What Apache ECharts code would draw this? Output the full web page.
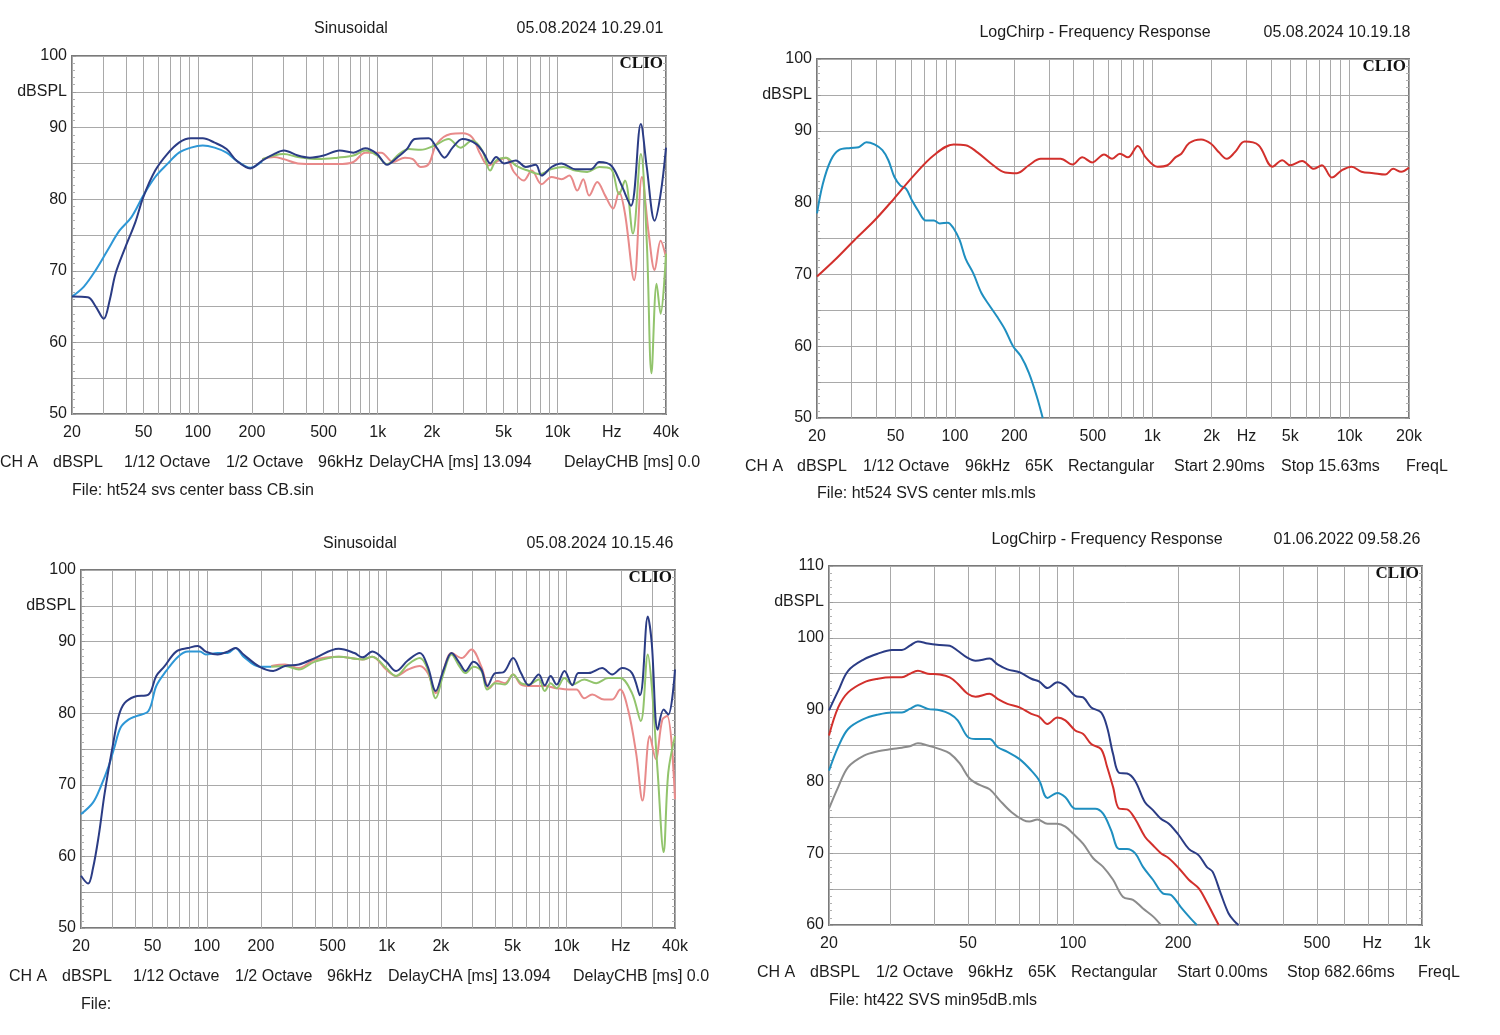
<!DOCTYPE html>
<html><head><meta charset="utf-8">
<script src="https://cdn.jsdelivr.net/npm/echarts@6/dist/echarts.min.js"></script>
<style>html,body{margin:0;padding:0;background:#fff}#c{width:1500px;height:1035px}</style>
</head><body><div id="c"></div>
<script>
// ---------- DATA ----------
// Panel 1 (Sinusoidal, 05.08.2024 10.29.01)
const p1Navy = [[20,66.4],[24.5,66.3],[27.1,65.0],[30,63.3],[32.4,65.9],[34.9,69.6],[39.6,73.3],[45,76.8],[49.8,80.3],[58,84.0],[67.6,86.3],[78.7,87.9],[91.6,88.5],[106.6,88.5],[124,87.9],[144.5,87.0],[164,85.4],[196,84.3],[228,85.4],[265,86.3],[301,86.8],[360,86.1],[420,85.8],[501,86.1],[614,86.8],[733,86.5],[853,87.1],[993,86.3],[1127,84.8],[1280,85.8],[1452,87.0],[1607,88.4],[1919,88.5],[2125,87.2],[2350,85.8],[2606,87.2],[2957,88.4],[3532,87.7],[3909,86.3],[4218,85.0],[4550,85.9],[5036,85.0],[5862,85.4],[6652,84.5],[7550,84.8],[8146,83.3],[9247,84.5],[10496,85.0],[12531,84.2],[15347,84.2],[17022,85.2],[19816,84.7],[22492,82.1],[25530,79.1],[28980,90.5],[31260,84.5],[34580,77.0],[37330,80.7],[40000,87.2]];
const p1Blue = [[20,66.4],[23.3,67.8],[27.1,70.1],[31.6,72.9],[36.7,75.6],[42.8,77.5],[49.8,80.5],[58,83.1],[67.6,84.9],[78.7,86.5],[91.6,87.2],[106.6,87.5],[124,87.2],[144.5,86.5],[164,85.4],[196,84.4],[228,85.3]];
const p1Green = [[228,85.6],[265,86.1],[301,86.3],[360,85.9],[464,85.6],[598,85.8],[733,86.1],[853,86.8],[993,86.1],[1127,84.9],[1313,86.3],[1490,87.0],[1734,86.9],[2071,87.5],[2477,88.4],[2883,87.2],[3357,88.2],[3811,86.8],[4218,84.0],[4550,85.4],[5165,85.8],[5862,84.7],[6823,84.0],[7942,83.5],[9247,84.2],[10765,84.5],[12531,84.0],[14589,83.8],[17022,84.5],[19816,84.2],[21929,80.7],[23661,82.6],[26185,75.2],[28980,86.3],[31260,74.2],[33220,55.7],[35470,68.2],[37330,64.0],[40000,72.4]];
const p1Pink = [[228,85.6],[265,85.9],[301,85.6],[360,85.0],[464,84.9],[598,84.9],[733,85.2],[853,86.5],[1045,86.5],[1216,85.2],[1416,85.8],[1567,85.6],[1734,84.5],[1919,84.9],[2125,87.7],[2541,89.1],[2957,89.2],[3357,88.6],[3716,86.3],[4112,84.7],[4550,85.2],[5165,85.8],[5716,83.8],[6486,82.6],[7177,84.0],[8146,82.1],[9247,83.1],[10496,82.8],[11617,83.3],[12853,81.2],[13868,82.8],[14963,80.5],[16596,82.4],[18365,80.5],[20325,78.7],[21929,81.0],[23661,78.0],[26600,68.7],[29400,83.1],[32060,75.2],[34580,70.1],[37330,74.2],[40000,71.9]];

// Panel 2 (LogChirp, 05.08.2024 10.19.18)
const p2Red = [[20,69.7],[24.6,72.0],[31,74.8],[39.1,77.5],[49.3,80.6],[62,83.8],[78.2,86.6],[98.5,88.1],[113.2,88.0],[130,87.0],[156.3,85.2],[179.6,84.2],[206.3,84.1],[237,85.2],[272.2,86.1],[342.9,86.1],[394,85.3],[442.2,86.3],[496.3,85.6],[570.2,86.7],[625.4,86.1],[685.8,86.8],[752.5,86.3],[844.4,87.9],[926,86.3],[1064,85.0],[1194,85.2],[1310,86.3],[1404,86.8],[1540,88.3],[1768,88.8],[1985,88.2],[2177,87.0],[2388,86.1],[2619,87.0],[2940,88.5],[3457,88.0],[4064,85.0],[4560,85.9],[5001,85.2],[5744,85.8],[6601,84.7],[7240,85.2],[8126,83.5],[9119,84.5],[10236,85.0],[11489,84.3],[13199,84.1],[15163,83.9],[16631,84.7],[18243,84.3],[20000,84.9]];
const p2Blue = [[20,78.5],[21.4,82.6],[23.5,85.9],[25.8,87.3],[29.6,87.6],[32.5,87.7],[35.6,88.4],[39.1,88.1],[42.9,87.3],[46,85.9],[49.3,83.6],[52.8,82.4],[56.6,81.9],[60.6,80.3],[65,78.9],[71.3,77.5],[78.2,77.5],[83.8,77.1],[91.9,77.2],[98.5,76.4],[105.6,74.8],[113.2,72.2],[124.1,70.1],[136.2,67.4],[149.3,65.7],[163.7,64.1],[179.6,62.3],[197,60.0],[216,58.6],[237,56.3],[259.9,53.0],[278.6,50.0]];

// Panel 3 (Sinusoidal, 05.08.2024 10.15.46)
const p3Navy = [[20,57.3],[21.9,56.2],[23.3,58.3],[25.1,62.9],[27.1,68.9],[30,75.4],[32.4,79.6],[34.9,81.4],[39.6,82.3],[47.4,82.6],[52.4,85.2],[58,86.5],[67.6,88.6],[78.7,89.1],[89.3,89.4],[98.8,88.6],[115,88.2],[130.6,88.6],[144.5,89.1],[160,88.2],[196,86.5],[234,85.9],[272,86.6],[325,86.8],[399,87.7],[541,89.0],[662,88.4],[733,87.8],[832,88.6],[993,87.2],[1127,85.9],[1313,87.4],[1528,88.4],[1691,86.5],[1871,83.1],[2071,86.1],[2292,88.4],[2541,87.0],[2740,85.9],[3033,87.2],[3357,86.1],[3623,83.8],[4009,85.6],[4437,85.7],[5036,87.7],[5573,85.6],[6165,83.9],[6998,85.4],[7550,83.9],[8146,85.2],[8790,84.0],[9727,85.9],[10765,83.9],[11617,85.6],[13183,85.6],[15741,86.3],[17906,85.4],[20325,86.3],[23069,85.6],[25530,82.5],[28250,93.5],[29700,89.8],[32060,77.7],[34580,80.5],[36700,79.8],[40000,86.1]];
const p3Blue = [[20,65.9],[23.3,67.5],[25.8,69.8],[28.5,72.6],[30.8,75.4],[33.2,78.0],[36.7,79.1],[40.6,79.6],[47.4,80.3],[52.4,83.8],[59.5,85.9],[69.3,87.9],[78.7,88.6],[91.6,88.6],[98.8,88.2],[115,88.4],[130.6,88.4],[144.5,89.1],[160,87.9],[196,86.5],[228,86.5]];
const p3Green = [[228,86.5],[272,86.6],[325,86.1],[399,87.2],[541,87.9],[733,87.5],[832,87.9],[993,86.3],[1127,85.2],[1313,86.8],[1528,87.7],[1691,86.1],[1871,82.1],[2071,85.6],[2292,88.2],[2541,86.5],[2740,85.6],[3033,86.5],[3357,85.9],[3623,83.3],[4009,84.2],[4550,84.0],[5036,85.4],[5573,84.2],[6165,84.0],[6998,84.7],[7550,83.1],[8146,84.2],[8790,83.5],[9727,84.9],[10765,84.0],[12531,84.7],[14589,84.2],[17022,84.9],[19816,84.9],[23069,82.8],[25800,78.9],[28250,88.2],[29700,83.8],[32060,71.7],[34580,60.6],[36700,71.7],[40000,76.8]];
const p3Pink = [[228,86.6],[272,86.8],[325,86.3],[399,87.5],[541,87.9],[733,87.5],[832,87.9],[993,86.1],[1127,85.2],[1313,86.1],[1528,86.6],[1691,85.6],[1871,82.8],[2071,86.1],[2292,88.4],[2606,87.7],[2957,88.9],[3357,86.5],[3716,83.5],[4112,84.5],[4550,84.2],[5036,85.4],[5573,84.0],[6320,83.8],[7550,83.8],[8790,83.5],[10240,83.3],[11330,83.3],[12531,82.1],[13868,82.6],[16160,81.9],[17906,81.9],[19816,83.3],[21929,80.5],[24300,74.5],[26400,67.8],[28980,76.8],[31260,73.6],[34000,79.1],[36200,79.6],[40000,68.0]];

// Panel 4 (LogChirp, 01.06.2022 09.58.26)
const p4Navy = [[20,89.9],[21.25,92.6],[22.69,95.4],[25.19,97.0],[27.62,97.8],[30.29,98.3],[32.36,98.3],[34.1,98.9],[35.94,99.5],[38.38,99.2],[41.54,99.0],[44.36,98.9],[46.75,98.2],[49.92,97.2],[52.6,96.8],[57.7,97.1],[60.8,96.3],[64.9,95.6],[70.3,95.2],[76,94.3],[80.1,93.9],[84.5,93.0],[90.2,93.8],[95.1,93.3],[101.5,91.9],[107,91.7],[112.8,90.3],[120.4,89.6],[125.3,87.5],[130.3,83.8],[135.6,81.2],[142.9,81.1],[150.6,80.1],[160.8,77.1],[169.5,76.0],[178.6,74.8],[188.2,74.1],[201.1,72.5],[214.7,70.6],[229.3,69.7],[241.7,68.1],[251.4,67.4],[265,64.4],[279.2,61.6],[290.4,60.5],[298.1,60.0]];
const p4Red = [[20,86.4],[21.25,90.3],[22.69,92.4],[25.19,93.8],[27.62,94.3],[30.29,94.5],[32.36,94.5],[34.1,95.0],[35.94,95.4],[38.38,95.0],[41.54,94.9],[44.36,94.5],[46.75,93.6],[49.92,92.2],[52.6,91.8],[57.7,92.2],[60.8,91.5],[64.9,90.8],[70.3,90.3],[76,89.4],[80.1,89.0],[84.5,88.0],[90.2,88.9],[95.1,88.5],[101.5,87.1],[107,86.6],[112.8,85.2],[120.4,84.5],[125.3,82.0],[130.3,79.2],[135.6,76.2],[142.9,76.1],[150.6,74.8],[160.8,72.3],[169.5,71.1],[178.6,70.0],[188.2,69.3],[201.1,67.9],[214.7,66.3],[229.3,65.1],[241.7,63.2],[251.4,61.6],[261.5,60.0]];
const p4Teal = [[20,81.5],[21.25,84.8],[22.69,87.3],[25.19,88.7],[27.62,89.3],[30.29,89.6],[32.36,89.6],[34.1,90.1],[35.94,90.6],[38.38,90.1],[41.54,89.9],[44.36,89.4],[46.75,88.5],[49.92,86.2],[52.6,85.9],[57.7,85.9],[60.8,84.8],[64.9,84.1],[70.3,83.1],[76,81.5],[80.1,80.1],[84.5,77.7],[90.2,78.4],[95.1,77.8],[101.5,76.2],[109.9,76.2],[115.8,76.2],[122,75.5],[128.6,73.2],[135.6,70.6],[142.9,70.6],[150.6,70.0],[158.7,68.1],[169.5,66.3],[180.9,64.4],[190.7,64.2],[203.7,62.5],[214.7,61.2],[226.3,60.0]];
const p4Gray = [[20,76.2],[21.25,79.2],[22.69,82.0],[25.19,83.6],[27.62,84.2],[30.29,84.5],[32.36,84.7],[34.1,84.9],[35.94,85.3],[38.38,85.0],[41.54,84.5],[44.36,83.9],[47.37,82.5],[50.58,80.4],[54,79.5],[57.7,78.9],[61.6,77.4],[66.7,75.7],[72.1,74.6],[75,74.4],[79.1,74.7],[84.5,74.1],[90.2,74.1],[95.1,73.7],[100.2,72.7],[107,71.3],[114.3,69.3],[122,68.1],[130.3,66.3],[139.2,63.9],[148.6,63.5],[158.7,62.3],[169.5,61.2],[178.6,60.0]];

// Tick labels
const labelsA = [20,50,100,200,500,1000,2000,5000,10000,20000,40000];
const textsA  = ['20','50','100','200','500','1k','2k','5k','10k','Hz','40k'];
const labelsB = [20,50,100,200,500,1000,2000,3000,5000,10000,20000];
const textsB  = ['20','50','100','200','500','1k','2k','Hz','5k','10k','20k'];
const labelsC = [20,50,100,200,500,720,1000];
const textsC  = ['20','50','100','200','500','Hz','1k'];

const titles = [
  ['Sinusoidal','05.08.2024 10.29.01'],
  ['LogChirp - Frequency Response','05.08.2024 10.19.18'],
  ['Sinusoidal','05.08.2024 10.15.46'],
  ['LogChirp - Frequency Response','01.06.2022 09.58.26']
];
const footers = [
  [['CH A','dBSPL','1/12 Octave','1/2 Octave','96kHz','DelayCHA [ms] 13.094','DelayCHB [ms] 0.0'],'File: ht524 svs center bass CB.sin'],
  [['CH A','dBSPL','1/12 Octave','96kHz','65K','Rectangular','Start 2.90ms','Stop 15.63ms','FreqL'],'File: ht524 SVS center mls.mls'],
  [['CH A','dBSPL','1/12 Octave','1/2 Octave','96kHz','DelayCHA [ms] 13.094','DelayCHB [ms] 0.0'],'File:'],
  [['CH A','dBSPL','1/2 Octave','96kHz','65K','Rectangular','Start 0.00ms','Stop 682.66ms','FreqL'],'File: ht422 SVS min95dB.mls']
];

// ---------- LAYOUT / STYLE ----------
const FONT = '"Liberation Sans", Arial, sans-serif';
const C = {navy:'#2b3c85', blue:'#2e97d6', green:'#92c46c', pink:'#e88a8a', red:'#d2302c', teal:'#1f8fc0', gray:'#8c8c8c'};

const layout = [
  {left:72, top:56, width:594, height:358, xmin:20, xmax:40000, ymin:50, ymax:100, lab:labelsA, txt:textsA,
   title:[351,29,590], fx:[0,53,124,226,318,369,564], fy:[463,491], fileX:72, clipR:703},
  {left:817, top:59, width:592, height:359, xmin:20, xmax:20000, ymin:50, ymax:100, lab:labelsB, txt:textsB,
   title:[1095,33,1337], fx:[745,797,863,965,1025,1068,1174,1281,1406], fy:[467,494], fileX:817, clipR:1500},
  {left:81, top:570, width:594, height:358, xmin:20, xmax:40000, ymin:50, ymax:100, lab:labelsA, txt:textsA,
   title:[360,544,600], fx:[9,62,133,235,327,388,573], fy:[977,1005], fileX:81, clipR:712},
  {left:829, top:566, width:593, height:359, xmin:20, xmax:1000, ymin:60, ymax:110, lab:labelsC, txt:textsC,
   title:[1107,540,1347], fx:[757,810,876,968,1028,1071,1177,1287,1418], fy:[973,1001], fileX:829, clipR:1500}
];

const seriesDefs = [
  [[p1Pink,C.pink],[p1Green,C.green],[p1Blue,C.blue],[p1Navy,C.navy]],
  [[p2Blue,C.teal],[p2Red,C.red]],
  [[p3Pink,C.pink],[p3Green,C.green],[p3Blue,C.blue],[p3Navy,C.navy]],
  [[p4Gray,C.gray],[p4Teal,C.teal],[p4Red,C.red],[p4Navy,C.navy]]
];

function gridFreqs(min, max){
  const out = [];
  for (let d = 10; d <= 100000; d *= 10)
    for (let m = 1; m <= 9; m++){ const f = m*d; if (f >= min && f <= max) out.push(f); }
  return out;
}

const grids = [], xAxes = [], yAxes = [], series = [], graphics = [];
layout.forEach((L, i) => {
  grids.push({left:L.left, top:L.top, width:L.width, height:L.height, show:true,
    borderColor:'#7a7a7a', borderWidth:2, backgroundColor:'#fff', containLabel:false});
  const map = {}; L.lab.forEach((v,k)=>{ map[v] = L.txt[k]; });
  xAxes.push({type:'log', logBase:10, gridIndex:i, min:L.xmin, max:L.xmax,
    axisLine:{show:false},
    axisTick:{show:false, customValues:gridFreqs(L.xmin, L.xmax)},
    axisLabel:{customValues:L.lab, margin:11, fontSize:16, color:'#1c1c1c', fontFamily:FONT,
      formatter:v => { const r = Math.round(v); return map[r] !== undefined ? map[r] : ''; }},
    splitLine:{show:true, lineStyle:{color:'#a9a9a9', width:1}},
    minorSplitLine:{show:false}
  });
  const midLabel = L.ymax - 5;
  yAxes.push({type:'value', gridIndex:i, min:L.ymin, max:L.ymax, interval:5, position:'left',
    axisLine:{show:false},
    axisTick:{show:true, inside:true, length:4, lineStyle:{color:'#9a9a9a'}},
    minorTick:{show:true, splitNumber:5, length:3, lineStyle:{color:'#b0b0b0'}},
    axisLabel:{margin:5, fontSize:16, color:'#1c1c1c', fontFamily:FONT,
      formatter:v => v === midLabel ? 'dBSPL' : (v % 10 === 0 ? String(v) : '')},
    splitLine:{show:true, lineStyle:{color:'#a9a9a9', width:1}}
  });
  seriesDefs[i].forEach(([data, color], k) => {
    series.push({type:'line', xAxisIndex:i, yAxisIndex:i, data:data, symbol:'none', showSymbol:false,
      smooth:0.35, clip:true, z:2+k, lineStyle:{color:color, width:2}, silent:true, animation:false});
  });
  // texts
  const ts = {fill:'#1c1c1c', font:'16px '+FONT, textVerticalAlign:'middle', verticalAlign:'middle'};
  graphics.push({type:'text', x:L.title[0], y:L.title[1], silent:true,
    style:Object.assign({}, ts, {text:titles[i][0], textAlign:'center', align:'center'})});
  graphics.push({type:'text', x:L.title[2], y:L.title[1], silent:true,
    style:Object.assign({}, ts, {text:titles[i][1], textAlign:'center', align:'center'})});
  footers[i][0].forEach((t, k) => {
    const st = Object.assign({}, ts, {text:t, textAlign:'left', align:'left'});
    const isLast = k === footers[i][0].length - 1;
    if (isLast && L.clipR < 1500) { st.width = L.clipR - L.fx[k]; st.overflow = 'truncate'; st.ellipsis = ''; }
    graphics.push({type:'text', x:L.fx[k], y:L.fy[0], silent:true, style:st});
  });
  graphics.push({type:'text', x:L.fileX, y:L.fy[1], silent:true,
    style:Object.assign({}, ts, {text:footers[i][1], textAlign:'left', align:'left'})});
  graphics.push({type:'text', x:L.left + L.width - 3, y:L.top + 8, silent:true, z:100,
    style:{text:'CLIO', fill:'#111', font:'bold 17px "Liberation Serif", "DejaVu Serif", serif',
      textAlign:'right', align:'right', textVerticalAlign:'middle', verticalAlign:'middle'}});
});
// right-side tick axes
layout.forEach((L, i) => {
  yAxes.push({type:'value', gridIndex:i, min:L.ymin, max:L.ymax, interval:5, position:'right',
    axisLine:{show:false}, axisLabel:{show:false}, splitLine:{show:false},
    axisTick:{show:true, inside:true, length:4, lineStyle:{color:'#9a9a9a'}},
    minorTick:{show:true, splitNumber:5, length:3, lineStyle:{color:'#b0b0b0'}}
  });
});

const chart = echarts.init(document.getElementById('c'), null, {renderer:'canvas'});
chart.setOption({
  animation:false,
  backgroundColor:'#ffffff',
  grid:grids, xAxis:xAxes, yAxis:yAxes, series:series, graphic:graphics
});
</script>
</body></html>
